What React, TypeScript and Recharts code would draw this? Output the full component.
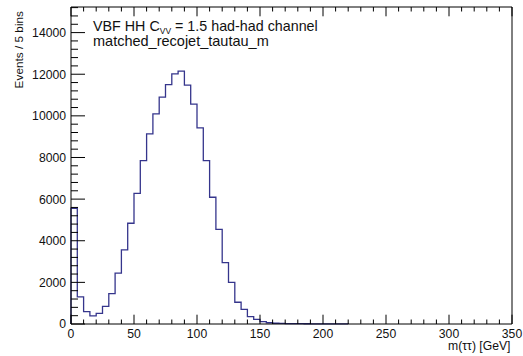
import React from 'react';
import { LineChart, Line, XAxis, YAxis } from 'recharts';

// Histogram: matched_recojet_tautau_m, 5 GeV bins (low edges in GeV)
const binLowEdges = [
  0, 5, 10, 15, 20, 25, 30, 35, 40, 45,
  50, 55, 60, 65, 70, 75, 80, 85, 90, 95,
  100, 105, 110, 115, 120, 125, 130, 135, 140, 145,
  150, 155, 160, 165, 170, 175, 180, 185, 190, 195,
  200, 205, 210, 215,
];
const eventCounts = [
  5560, 1300, 590, 390, 515, 850, 1460, 2440, 3560, 4840,
  6280, 7850, 9135, 10095, 10900, 11505, 12020, 12150, 11475, 10560,
  9425, 7850, 6090, 4550, 2950, 2000, 1045, 705, 350, 225,
  110, 60, 35, 28, 22, 18, 15, 12, 10, 8,
  7, 5, 4, 3,
];
const BIN_WIDTH = 5;

const xMajorTicks = [0, 50, 100, 150, 200, 250, 300, 350];
const yMajorTicks = [0, 2000, 4000, 6000, 8000, 10000, 12000, 14000];
const X_MAX = 350;
const Y_MAX = 15230;
const xMinorStep = 10;
const yMinorStep = 400;

const xTicks: number[] = [];
for (let v = 0; v <= X_MAX; v += xMinorStep) xTicks.push(v);
const yTicks: number[] = [];
for (let v = 0; v <= Y_MAX; v += yMinorStep) yTicks.push(v);

const titleLine1 = { pre: 'VBF HH C', sub: 'VV', post: ' = 1.5 had-had channel' };
const titleLine2 = 'matched_recojet_tautau_m';
const xTitle = 'm(\u03c4\u03c4) [GeV]';
const yTitle = 'Events / 5 bins';

const data = [
  { x: binLowEdges[0], y: 0 },
  ...binLowEdges.map((e, i) => ({ x: e, y: eventCounts[i] })),
  { x: binLowEdges[binLowEdges.length - 1] + BIN_WIDTH, y: 0 },
];

const FONT = '"Liberation Sans", Arial, Helvetica, sans-serif';
const TICK_FS = 12.2;
const LINE_COLOR = '#35358c';

const isMajorX = (v: number) => xMajorTicks.includes(v);
const isMajorY = (v: number) => yMajorTicks.includes(v);

const BottomTick = (p: any) => {
  const { x, y, payload } = p;
  const v = payload.value;
  const major = isMajorX(v);
  return (
    <g>
      <line x1={x} x2={x} y1={y} y2={y - (major ? 9.3 : 4.5)} stroke="#000" strokeWidth={1} />
      {major && (
        <text x={x} y={y + 14.2} textAnchor="middle" fontSize={TICK_FS} fontFamily={FONT} fill="#111">
          {v}
        </text>
      )}
    </g>
  );
};

const TopTick = (p: any) => {
  const { x, y, payload } = p;
  const major = isMajorX(payload.value);
  return <line x1={x} x2={x} y1={y} y2={y + (major ? 9.3 : 4.5)} stroke="#000" strokeWidth={1} />;
};

const LeftTick = (p: any) => {
  const { x, y, payload } = p;
  const v = payload.value;
  const major = isMajorY(v);
  return (
    <g>
      <line x1={x} x2={x + (major ? 14 : 7)} y1={y} y2={y} stroke="#000" strokeWidth={1} />
      {major && (
        <text x={x - 5} y={y + 4.4} textAnchor="end" fontSize={TICK_FS} fontFamily={FONT} fill="#111">
          {v}
        </text>
      )}
    </g>
  );
};

const RightTick = (p: any) => {
  const { x, y, payload } = p;
  const major = isMajorY(payload.value);
  return <line x1={x} x2={x - (major ? 14 : 7)} y1={y} y2={y} stroke="#000" strokeWidth={1} />;
};

export default function App() {
  return (
    <div style={{ position: 'absolute', left: 0, top: 0, width: 523, height: 356, background: '#fff' }}>
      <LineChart width={523} height={356} data={data} margin={{ top: 6, right: 10, bottom: 31, left: 70 }}>
        <XAxis
          xAxisId="b"
          type="number"
          dataKey="x"
          domain={[0, X_MAX]}
          ticks={xTicks}
          interval={0}
          height={1}
          tickSize={0}
          tickMargin={0}
          tickLine={false}
          axisLine={{ stroke: '#000' }}
          tick={BottomTick}
        />
        <XAxis
          xAxisId="t"
          orientation="top"
          type="number"
          dataKey="x"
          domain={[0, X_MAX]}
          ticks={xTicks}
          interval={0}
          height={1}
          tickSize={0}
          tickMargin={0}
          tickLine={false}
          axisLine={{ stroke: '#000' }}
          tick={TopTick}
        />
        <YAxis
          yAxisId="l"
          type="number"
          domain={[0, Y_MAX]}
          ticks={yTicks}
          interval={0}
          width={1}
          tickSize={0}
          tickMargin={0}
          tickLine={false}
          axisLine={{ stroke: '#000' }}
          tick={LeftTick}
        />
        <YAxis
          yAxisId="r"
          orientation="right"
          type="number"
          domain={[0, Y_MAX]}
          ticks={yTicks}
          interval={0}
          width={1}
          tickSize={0}
          tickMargin={0}
          tickLine={false}
          axisLine={{ stroke: '#000' }}
          tick={RightTick}
        />
        <Line
          xAxisId="b"
          yAxisId="l"
          type="stepAfter"
          dataKey="y"
          stroke={LINE_COLOR}
          strokeWidth={1.3}
          dot={false}
          activeDot={false}
          isAnimationActive={false}
        />
      </LineChart>
      <svg
        width={523}
        height={356}
        style={{ position: 'absolute', left: 0, top: 0, pointerEvents: 'none' }}
      >
        <text x={93} y={31} fontSize={14.3} fontFamily={FONT} fill="#111">
          {titleLine1.pre}
          <tspan fontSize={8.5} dy={3}>{titleLine1.sub}</tspan>
          <tspan dy={-3}>{titleLine1.post}</tspan>
        </text>
        <text x={93} y={45.5} fontSize={14.5} fontFamily={FONT} fill="#111">
          {titleLine2}
        </text>
        <text x={510.5} y={349.5} textAnchor="end" fontSize={TICK_FS} fontFamily={FONT} fill="#111">
          {xTitle}
        </text>
        <text
          x={22.5}
          y={11}
          textAnchor="end"
          transform="rotate(-90 22.5 11)"
          fontSize={11.8}
          fontFamily={FONT}
          fill="#111"
        >
          {yTitle}
        </text>
      </svg>
    </div>
  );
}
